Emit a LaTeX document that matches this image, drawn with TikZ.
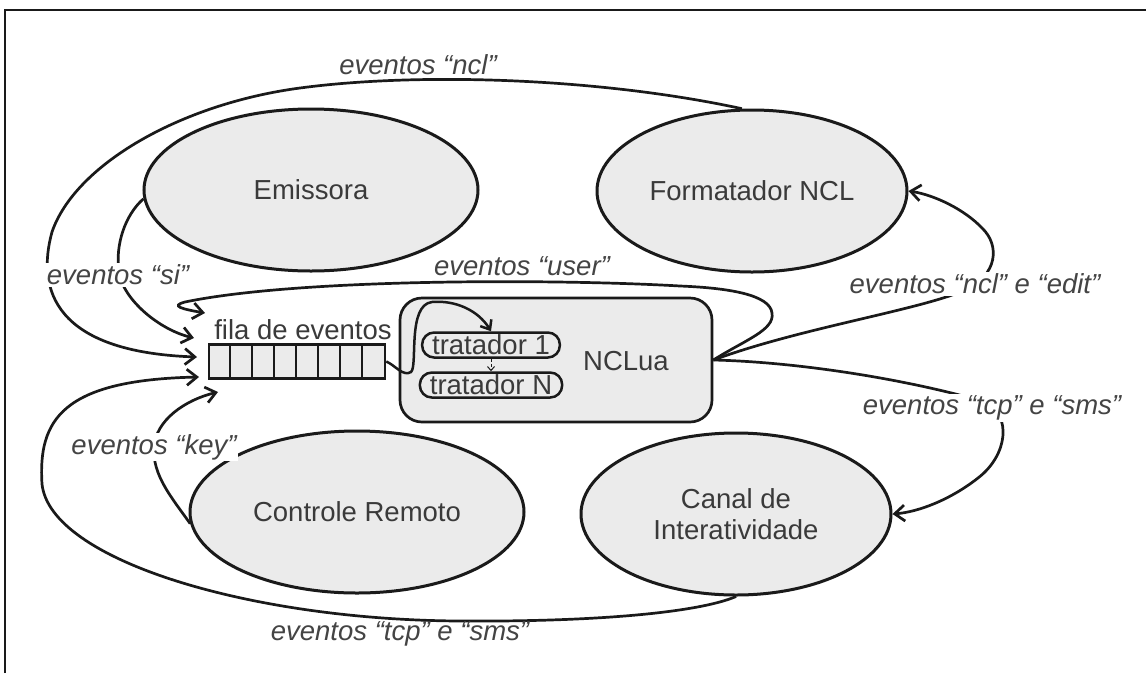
\documentclass[tikz,border=0pt]{standalone}
\usepackage{fontspec}
\setmainfont{Liberation Sans}
\usetikzlibrary{shapes.geometric,arrows.meta}
\definecolor{ink}{HTML}{1A1A1A}
\definecolor{txt}{HTML}{3A3A3A}
\definecolor{shade}{HTML}{EBEBEB}
\begin{document}
\begin{tikzpicture}[x=1pt,y=-1pt,
  every node/.style={font=\fontsize{27.5}{31}\selectfont, text=txt},
  actor/.style={ellipse, draw=ink, fill=shade, line width=3pt, inner sep=0pt},
  conn/.style={draw=ink, line width=2.7pt, -{Straight Barb[length=10pt,width=16pt]}},
  lbl/.style={font=\fontsize{27.5}{31}\selectfont\itshape, text=txt!95!white, fill=white, inner sep=1.5pt},
  lblfree/.style={font=\fontsize{27.5}{31}\selectfont\itshape, text=txt!95!white, inner sep=1.5pt},
  pill/.style={draw=ink, fill=shade, line width=2.5pt, rounded corners=12pt,
    minimum height=25pt, inner xsep=10pt, inner ysep=0pt},
  cell/.style={draw=ink, line width=2.5pt}
]
\useasboundingbox (0,0) rectangle (1146,673);
\fill[white] (0,0) rectangle (1146,673);
% page frame (top and left edges)
\draw[ink, line width=2pt] (5,673) -- (5,10) -- (1146,10);

% the four event sources / sinks
\node[actor, minimum width=334pt, minimum height=162pt] (E) at (311,190) {Emissora};
\node[actor, minimum width=310pt, minimum height=162pt] (F) at (752,191) {Formatador NCL};
\node[actor, minimum width=334pt, minimum height=162pt] (R) at (357,512) {Controle Remoto};
\node[actor, minimum width=310pt, minimum height=162pt, align=center] (C) at (736,514) {Canal de\\Interatividade};

% NCLua container with its handlers
\node[draw=ink, fill=shade, line width=2.7pt, rounded corners=22pt,
      minimum width=312pt, minimum height=124pt] (B) at (556,360) {};
\node (N) at (626,361) {NCLua};
\node[pill] (T1) at (491,345) {tratador 1};
\node[pill] (TN) at (491,385) {tratador N};
\draw[ink, line width=1pt, densely dashed, -{Straight Barb[length=4pt,width=7pt]}] (T1.south) -- (TN.north);

% event queue
\node[draw=ink, fill=shade, line width=2.5pt, minimum width=176pt, minimum height=34pt, inner sep=0pt] (Q) at (297,361.5) {};
\foreach \i in {1,...,7}
  \draw[cell] ([xshift=\i*22pt]Q.north west) -- ([xshift=\i*22pt]Q.south west);
\node[anchor=south, inner sep=2pt] (QL) at ([xshift=6pt,yshift=1pt]Q.north) {fila de eventos};

% entry points on the queue
\coordinate (inUser) at (205,313);
\coordinate (inSi) at (194,338);
\coordinate (inNcl) at (197,357);
\coordinate (inTcp) at (199,377);
\coordinate (inKey) at (218,392);

% queue feeds the first handler
\draw[conn, line width=2.5pt, -{Straight Barb[length=8pt,width=13pt]}] (Q.east) .. controls (395,365) and (403,377) .. (411,372)
  .. controls (418,366) and (407,305) .. (432,302)
  .. controls (455,300) and (478,310) .. (T1.north);

% "user" events loop back from NCLua
\draw[conn] (B.east) .. controls (745,340) and (775,330) .. (772,313)
  .. controls (770,295) and (730,288) .. (680,286)
  .. controls (560,279) and (300,278) .. (185,302)
  .. controls (170,306) and (182,309) .. (inUser);

% "ncl" events from the formatter
\draw[conn] (F.97) .. controls (600,78) and (420,72) .. (300,88)
  .. controls (180,104) and (75,165) .. (52,232)
  .. controls (36,290) and (55,352) .. (inNcl);

% "si" events from the broadcaster
\draw[conn] (E.183) .. controls (125,215) and (115,245) .. (119,272)
  .. controls (123,300) and (160,330) .. (inSi);

% "key" events from the remote control
\draw[conn] (R.184) .. controls (172,498) and (152,475) .. (154,447)
  .. controls (156,420) and (185,400) .. (inKey);

% "tcp"/"sms" events from the return channel
\draw[conn] (C.south) .. controls (700,612) and (600,622) .. (460,621)
  .. controls (250,620) and (50,560) .. (42,484)
  .. controls (38,420) and (62,380) .. (inTcp);

% NCLua to the formatter
\draw[conn] (B.east) .. controls (800,328) and (920,310) .. (965,290)
  .. controls (998,275) and (1000,245) .. (982,228)
  .. controls (965,210) and (935,195) .. (F.east);

% NCLua to the return channel
\draw[conn] (B.east) .. controls (800,362) and (910,380) .. (985,402)
  .. controls (1012,415) and (1008,455) .. (978,478)
  .. controls (950,500) and (918,512) .. (C.east);

% connector labels
\node[lblfree] (Lncl) at (418,65) {eventos “ncl”};
\node[lblfree] (Luser) at (522,266) {eventos “user”};
\node[lbl] (Lsi) at (118,275) {eventos “si”};
\node[lbl] (Lkey) at (154,447) {eventos “key”};
\node[lbl] (Ledit) at (975,284) {eventos “ncl” e “edit”};
\node[lbl] (Ltcp) at (992,408) {eventos “tcp” e “sms”};
\node[lblfree] (Ltcpb) at (400,634) {eventos “tcp” e “sms”};
\end{tikzpicture}
\end{document}
